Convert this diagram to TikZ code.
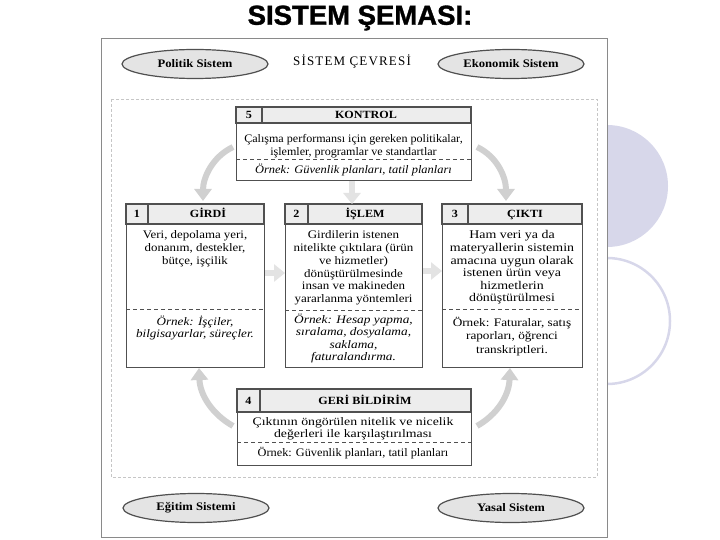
\documentclass[tikz,border=0pt]{standalone}
\usepackage{fontspec}
\setmainfont{Liberation Serif}
\newfontfamily\titlefont{Liberation Sans}
\usetikzlibrary{arrows.meta,shapes.geometric}
\definecolor{boxline}{HTML}{505050}
\definecolor{headfill}{HTML}{EDEDED}
\definecolor{ellfill}{HTML}{E4E4E4}
\definecolor{arrowgray}{HTML}{D0D0D0}
\definecolor{lav}{HTML}{D7D7EA}
\definecolor{framegray}{HTML}{8A8A8A}
\newcommand\myfs[3]{\fontsize{#1}{#2}\selectfont\addfontfeatures{FakeStretch=#3}}
\newcommand\myfsi[3]{\fontsize{#1}{#2}\selectfont\itshape\addfontfeatures{FakeStretch=#3}}
\newcommand\myfsb[3]{\fontsize{#1}{#2}\selectfont\bfseries\addfontfeatures{FakeStretch=#3}}
\begin{document}
\begin{tikzpicture}[x=1pt,y=-1pt,
  box/.style={draw=boxline, line width=1.1pt, inner sep=0pt, anchor=north west},
  hdr/.style={font=\myfsb{11}{12}{1.1}, inner sep=0pt, anchor=base},
  txt/.style={align=center, inner sep=0pt},
  ell/.style={ellipse, draw=boxline, fill=ellfill, line width=1.2pt, minimum width=146pt, minimum height=29pt, inner sep=0pt, font=\myfsb{11.5}{12}{1.1}},
  flow/.style={draw=arrowgray, line width=6pt, -{Triangle[width=17pt,length=12pt]}},
  faint/.style={draw=arrowgray!60, line width=6pt, -{Triangle[width=17pt,length=11pt]}},
  sep/.style={draw=boxline, line width=0.9pt, dash pattern=on 4pt off 3pt}]
\useasboundingbox (0,0) rectangle (720,540);
% decorative circles on the right
\fill[lav] (607,186) circle (61);
\draw[lav, line width=2.5pt] (607,321) circle (63);
% outer frame
\draw[framegray, fill=white, line width=1pt] (101,39) rectangle (607,537);
% inner dashed frame
\draw[gray!45, line width=0.6pt, dash pattern=on 3pt off 2pt] (111,99) rectangle (597,477);
% title
\node[font=\titlefont\fontsize{27.5}{30}\selectfont\bfseries\addfontfeatures{FakeBold=1.2}, inner sep=0pt] (title) at (360,18) {SISTEM ŞEMASI:};
% environment
\node[font=\fontsize{13}{14}\selectfont\addfontfeatures{LetterSpace=9}, inner sep=0pt] (cevre) at (352,62) {SİSTEM ÇEVRESİ};
\node[ell] (politik) at (195,64) {Politik Sistem};
\node[ell] (ekonomik) at (511,64) {Ekonomik Sistem};
\node[ell] (egitim) at (196,508) {Eğitim Sistemi};
\node[ell] (yasal) at (511,508) {Yasal Sistem};

% KONTROL
\node[box, minimum width=235pt, minimum height=73pt] (kontrol) at (236,107) {};
\draw[boxline, line width=1.1pt, fill=headfill] (236,107) rectangle (471,123);
\draw[boxline, line width=1.1pt] (262,107) -- (262,123);
\draw[sep] (236,159) -- (471,159);
\node[hdr] (k5) at (249,119) {5};
\node[hdr] (kt) at (366,119) {KONTROL};
\node[txt, font=\myfs{11.5}{12.6}{1.05}] (kb) at (353.5,146) {Çalışma performansı için gereken politikalar,\\işlemler, programlar ve standartlar};
\node[txt, font=\myfsi{11.5}{12.6}{1.08}] (ke) at (353.5,170) {Örnek: Güvenlik planları, tatil planları};

% GİRDİ
\node[box, minimum width=138pt, minimum height=163pt] (girdi) at (126,204) {};
\draw[boxline, line width=1.1pt, fill=headfill] (126,204) rectangle (264,224);
\draw[boxline, line width=1.1pt] (148,204) -- (148,224);
\draw[sep] (126,309) -- (264,309);
\node[hdr] (g1) at (137,218) {1};
\node[hdr] (gt) at (208,218) {GİRDİ};
\node[txt, font=\myfs{11.5}{12.9}{1.12}] (gb) at (195,249) {Veri, depolama yeri,\\donanım, destekler,\\bütçe, işçilik};
\node[txt, font=\myfsi{11.5}{12.4}{1.14}] (ge) at (195,328) {Örnek: İşçiler,\\bilgisayarlar, süreçler.};

% İŞLEM
\node[box, minimum width=137pt, minimum height=163pt] (islem) at (285,204) {};
\draw[boxline, line width=1.1pt, fill=headfill] (285,204) rectangle (422,224);
\draw[boxline, line width=1.1pt] (308,204) -- (308,224);
\draw[sep] (285,310) -- (422,310);
\node[hdr] (i2) at (296.5,218) {2};
\node[hdr] (it) at (365,218) {İŞLEM};
\node[txt, font=\myfs{11.5}{12.8}{1.13}] (ib) at (353.5,268) {Girdilerin istenen\\nitelikte çıktılara (ürün\\ve hizmetler)\\dönüştürülmesinde\\insan ve makineden\\yararlanma yöntemleri};
\node[txt, font=\myfsi{11.5}{12.4}{1.16}] (ie) at (353.5,338.5) {Örnek: Hesap yapma,\\sıralama, dosyalama,\\saklama,\\faturalandırma.};

% ÇIKTI
\node[box, minimum width=140pt, minimum height=163pt] (cikti) at (442,204) {};
\draw[boxline, line width=1.1pt, fill=headfill] (442,204) rectangle (582,224);
\draw[boxline, line width=1.1pt] (468,204) -- (468,224);
\draw[sep] (442,309) -- (582,309);
\node[hdr] (c3) at (455,218) {3};
\node[hdr] (ct) at (525,218) {ÇIKTI};
\node[txt, font=\myfs{11.8}{12.6}{1.18}] (cb) at (512,267.5) {Ham veri ya da\\materyallerin sistemin\\amacına uygun olarak\\istenen ürün veya\\hizmetlerin\\dönüştürülmesi};
\node[txt, font=\myfs{11.5}{13.5}{1.15}] (ce) at (512,336.5) {Örnek: Faturalar, satış\\raporları, öğrenci\\transkriptleri.};

% GERİ BİLDİRİM
\node[box, minimum width=234pt, minimum height=76pt] (geri) at (237,389) {};
\draw[boxline, line width=1.1pt, fill=headfill] (237,389) rectangle (471,412);
\draw[boxline, line width=1.1pt] (260,389) -- (260,412);
\draw[sep] (237,442) -- (471,442);
\node[hdr] (f4) at (248.5,404) {4};
\node[hdr] (ft) at (365,404) {GERİ BİLDİRİM};
\node[txt, font=\myfs{11.5}{12.4}{1.2}] (fb) at (353,429) {Çıktının öngörülen nitelik ve nicelik\\değerleri ile karşılaştırılması};
\node[txt, font=\myfs{11.5}{12.4}{1.07}] (fe) at (353,453) {Örnek: Güvenlik planları, tatil planları};

% flow arrows
\coordinate (a1s) at (233,147); \coordinate (a1e) at (203,201);
\coordinate (a2s) at (477,147); \coordinate (a2e) at (506,201);
\coordinate (a3s) at (233,426); \coordinate (a3e) at (199,368);
\coordinate (a4s) at (477,426); \coordinate (a4e) at (510,368);
\draw[flow] (a1s) .. controls (212,157) and (203,178) .. (a1e);
\draw[flow] (a2s) .. controls (498,157) and (506,178) .. (a2e);
\draw[flow] (a3s) .. controls (212,414) and (200,395) .. (a3e);
\draw[flow] (a4s) .. controls (498,414) and (509,395) .. (a4e);
\draw[faint] (girdi.east |- 0,273) -- (islem.west |- 0,273);
\draw[faint] (islem.east |- 0,271) -- (cikti.west |- 0,271);
\draw[faint] (kontrol.south -| 352,0) -- (islem.north -| 352,0);
\end{tikzpicture}
\end{document}
